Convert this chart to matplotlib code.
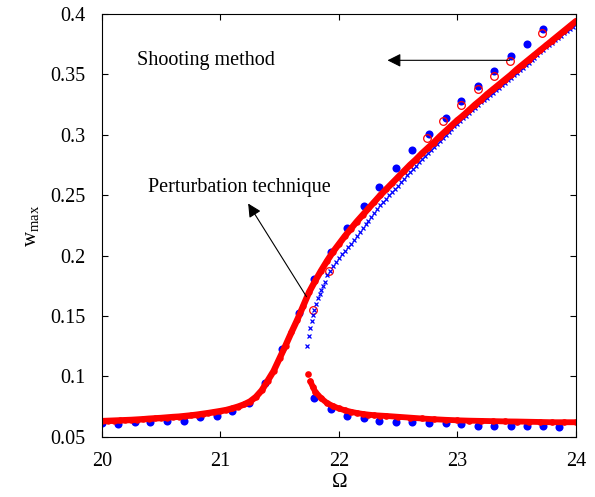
import numpy as np
import matplotlib.pyplot as plt

plt.rcParams['font.family'] = 'Liberation Serif'
plt.rcParams['mathtext.fontset'] = 'custom'
plt.rcParams['mathtext.rm'] = 'Liberation Serif'
plt.rcParams['mathtext.it'] = 'Liberation Serif'

#-------------DATA-------------------
# shooting method (blue filled dots), upper and lower branch
sh_up_x = [20.00, 20.14, 20.28, 20.41, 20.55, 20.69, 20.83, 20.97, 21.10, 21.24,
           21.38, 21.52, 21.66, 21.79, 21.93, 22.07, 22.21, 22.34, 22.48, 22.62,
           22.76, 22.90, 23.03, 23.17, 23.31, 23.45, 23.59, 23.72]
sh_up_y = [0.0613, 0.0607, 0.0624, 0.0627, 0.0635, 0.0635, 0.0663, 0.0674, 0.0715, 0.0783,
           0.0949, 0.1227, 0.1527, 0.1803, 0.2026, 0.2225, 0.2409, 0.2570, 0.2729, 0.2874,
           0.3010, 0.3139, 0.3279, 0.3407, 0.3527, 0.3649, 0.3748, 0.3872]
sh_lo_x = [21.79, 21.93, 22.07, 22.21, 22.34, 22.48, 22.62, 22.76, 22.90, 23.03,
           23.17, 23.31, 23.45, 23.59, 23.72, 23.86]
sh_lo_y = [0.0825, 0.0729, 0.0676, 0.0660, 0.0632, 0.0621, 0.0621, 0.0613, 0.0613, 0.0607,
           0.0591, 0.0591, 0.0591, 0.0591, 0.0591, 0.0580]

# red open circles
circ_x = [21.78, 21.92, 22.74, 22.88, 23.03, 23.17, 23.31, 23.44, 23.71]
circ_y = [0.155, 0.187, 0.2975, 0.3115, 0.3245, 0.3375, 0.3490, 0.3610, 0.3845]

# perturbation technique, unstable branch (blue x)
pt_un_x = [21.730, 21.745, 21.755, 21.770, 21.780, 21.790, 21.810, 21.825, 21.840, 21.850,
           21.865, 21.880, 21.900, 21.925, 21.950, 21.975, 22.000, 22.025, 22.050, 22.075,
           22.100, 22.125, 22.150, 22.175, 22.200, 22.225, 22.250, 22.275, 22.300, 22.325,
           22.350, 22.375, 22.400, 22.425, 22.450, 22.475, 22.500, 22.525, 22.550, 22.575,
           22.600, 22.625, 22.650, 22.675, 22.700, 22.725, 22.750, 22.775, 22.800, 22.825,
           22.850, 22.875, 22.900, 22.925, 22.950, 22.975, 23.000, 23.025, 23.050, 23.075,
           23.100, 23.125, 23.150, 23.175, 23.200, 23.225, 23.250, 23.275, 23.300, 23.325,
           23.350, 23.375, 23.400, 23.425, 23.450, 23.475, 23.500, 23.525, 23.550, 23.575,
           23.600, 23.625, 23.650, 23.675, 23.700, 23.725, 23.750, 23.775, 23.800, 23.825,
           23.850, 23.875, 23.900, 23.925, 23.950, 23.975, 24.000]
pt_un_y = [0.1255, 0.1335, 0.1400, 0.1460, 0.1510, 0.1550, 0.1600, 0.1646, 0.1680, 0.1715,
           0.1750, 0.1780, 0.1840, 0.1875, 0.1910, 0.1945, 0.1980, 0.2010, 0.2040, 0.2070,
           0.2100, 0.2133, 0.2165, 0.2198, 0.2230, 0.2260, 0.2290, 0.2320, 0.2350, 0.2383,
           0.2415, 0.2443, 0.2470, 0.2498, 0.2525, 0.2553, 0.2580, 0.2608, 0.2635, 0.2663,
           0.2690, 0.2718, 0.2745, 0.2773, 0.2800, 0.2825, 0.2850, 0.2875, 0.2900, 0.2925,
           0.2950, 0.2975, 0.3000, 0.3023, 0.3047, 0.3070, 0.3093, 0.3115, 0.3137, 0.3158,
           0.3180, 0.3202, 0.3224, 0.3246, 0.3268, 0.3288, 0.3308, 0.3328, 0.3348, 0.3368,
           0.3388, 0.3408, 0.3428, 0.3450, 0.3472, 0.3494, 0.3515, 0.3535, 0.3555, 0.3575,
           0.3595, 0.3617, 0.3639, 0.3661, 0.3683, 0.3703, 0.3723, 0.3743, 0.3763, 0.3783,
           0.3803, 0.3821, 0.3839, 0.3857, 0.3875, 0.3895, 0.3915]

# perturbation technique, upper stable branch (red dots)
pt_up_x = [20.00, 20.05, 20.10, 20.15, 20.20, 20.25, 20.30, 20.35, 20.40, 20.45,
           20.50, 20.55, 20.60, 20.65, 20.70, 20.75, 20.80, 20.85, 20.90, 20.95,
           21.00, 21.05, 21.10, 21.15, 21.20, 21.25, 21.30, 21.35, 21.40, 21.45,
           21.50, 21.55, 21.60, 21.65, 21.70, 21.75, 21.80, 21.85, 21.90, 21.95,
           22.00, 22.05, 22.10, 22.15, 22.20, 22.25, 22.30, 22.35, 22.40, 22.45,
           22.50, 22.55, 22.60, 22.65, 22.70, 22.75, 22.80, 22.85, 22.90, 22.95,
           23.00, 23.05, 23.10, 23.15, 23.20, 23.25, 23.30, 23.35, 23.40, 23.45,
           23.50, 23.55, 23.60, 23.65, 23.70, 23.75, 23.80, 23.85, 23.90, 23.95, 24.00]
pt_up_y = [0.0630, 0.0632, 0.0634, 0.0636, 0.0638, 0.0640, 0.0643, 0.0646, 0.0650, 0.0653,
           0.0656, 0.0660, 0.0664, 0.0667, 0.0672, 0.0677, 0.0683, 0.0690, 0.0697, 0.0705,
           0.0713, 0.0722, 0.0735, 0.0750, 0.0768, 0.0792, 0.0830, 0.0885, 0.0965, 0.1045,
           0.1150, 0.1255, 0.1365, 0.1470, 0.1585, 0.1700, 0.1790, 0.1875, 0.1955, 0.2030,
           0.2095, 0.2160, 0.2220, 0.2280, 0.2335, 0.2390, 0.2445, 0.2500, 0.2550, 0.2600,
           0.2650, 0.2700, 0.2750, 0.2795, 0.2845, 0.2890, 0.2935, 0.2985, 0.3030, 0.3075,
           0.3120, 0.3160, 0.3205, 0.3250, 0.3290, 0.3335, 0.3375, 0.3415, 0.3455, 0.3495,
           0.3540, 0.3580, 0.3620, 0.3660, 0.3700, 0.3740, 0.3780, 0.3820, 0.3860, 0.3900, 0.3940]

# perturbation technique, lower stable branch (red dots)
pt_lo_x = [21.74, 21.76, 21.78, 21.80, 21.85, 21.90, 21.95, 22.00, 22.05, 22.10,
           22.15, 22.20, 22.25, 22.30, 22.35, 22.40, 22.50, 22.60, 22.70, 22.80,
           22.90, 23.00, 23.10, 23.20, 23.30, 23.40, 23.50, 23.60, 23.70, 23.80,
           23.90, 24.00]
pt_lo_y = [0.1018, 0.0960, 0.0915, 0.0875, 0.0820, 0.0780, 0.0755, 0.0735, 0.0720, 0.0708,
           0.0698, 0.0690, 0.0684, 0.0679, 0.0676, 0.0673, 0.0666, 0.0659, 0.0652, 0.0646,
           0.0641, 0.0637, 0.0634, 0.0632, 0.0630, 0.0628, 0.0627, 0.0625, 0.0623, 0.0621,
           0.0621, 0.0621]

xticks = [20, 21, 22, 23, 24]
yticks = [0.05, 0.1, 0.15, 0.2, 0.25, 0.3, 0.35, 0.4]
ytick_labels = ['0.05', '0.1', '0.15', '0.2', '0.25', '0.3', '0.35', '0.4']

#-------------PLOT-------------------
fig = plt.figure(figsize=(5.95, 4.97), dpi=100)
ax = fig.add_axes([0.171, 0.121, 0.797, 0.851])

red = '#ff0000'
blue = '#0000ff'

ax.plot(sh_up_x, sh_up_y, 'o', color=blue, ms=5.8, mec='none')
ax.plot(sh_lo_x, sh_lo_y, 'o', color=blue, ms=5.8, mec='none')
ax.plot(circ_x, circ_y, 'o', mfc='none', mec=red, ms=5.5, mew=0.9)
ax.plot(pt_un_x, pt_un_y, 'x', color=blue, ms=3, mew=0.9)
ax.plot(pt_up_x, pt_up_y, '-', color=red, lw=4.6, solid_capstyle='round')
ax.plot(pt_up_x, pt_up_y, 'o', color=red, ms=4.6, mec='none')
ax.plot(pt_lo_x[1:], pt_lo_y[1:], '-', color=red, lw=4.2, solid_capstyle='round')
ax.plot(pt_lo_x, pt_lo_y, 'o', color=red, ms=4.8, mec='none')

# annotations
ax.text(20.295, 0.3616, 'Shooting method', fontsize=14.5, va='center', ha='left')
ax.annotate('', xy=(22.41, 0.3616), xytext=(23.44, 0.3616),
            arrowprops=dict(arrowstyle='-|>', color='k', lw=0.8,
                            mutation_scale=20, shrinkA=0, shrinkB=0))
ax.text(20.39, 0.2566, 'Perturbation technique', fontsize=14.5, va='center', ha='left')
ax.annotate('', xy=(21.235, 0.2431), xytext=(21.727, 0.166),
            arrowprops=dict(arrowstyle='-|>', color='k', lw=0.8,
                            mutation_scale=20, shrinkA=0, shrinkB=0))

ax.set_xlim(20, 24)
ax.set_ylim(0.05, 0.4)
ax.set_xticks(xticks)
ax.set_yticks(yticks)
ax.set_yticklabels(ytick_labels)
ax.tick_params(direction='in', top=True, right=True, labelsize=14.5, length=4, width=0.8)
ax.tick_params(axis='y', pad=12)
ax.tick_params(axis='x', pad=11)
ax.set_xlabel(r'$\Omega$', fontsize=15, labelpad=1)
ax.set_ylabel(r'w$_{\rm max}$', fontsize=15, labelpad=6)

fig.savefig('out.png', dpi=100)
